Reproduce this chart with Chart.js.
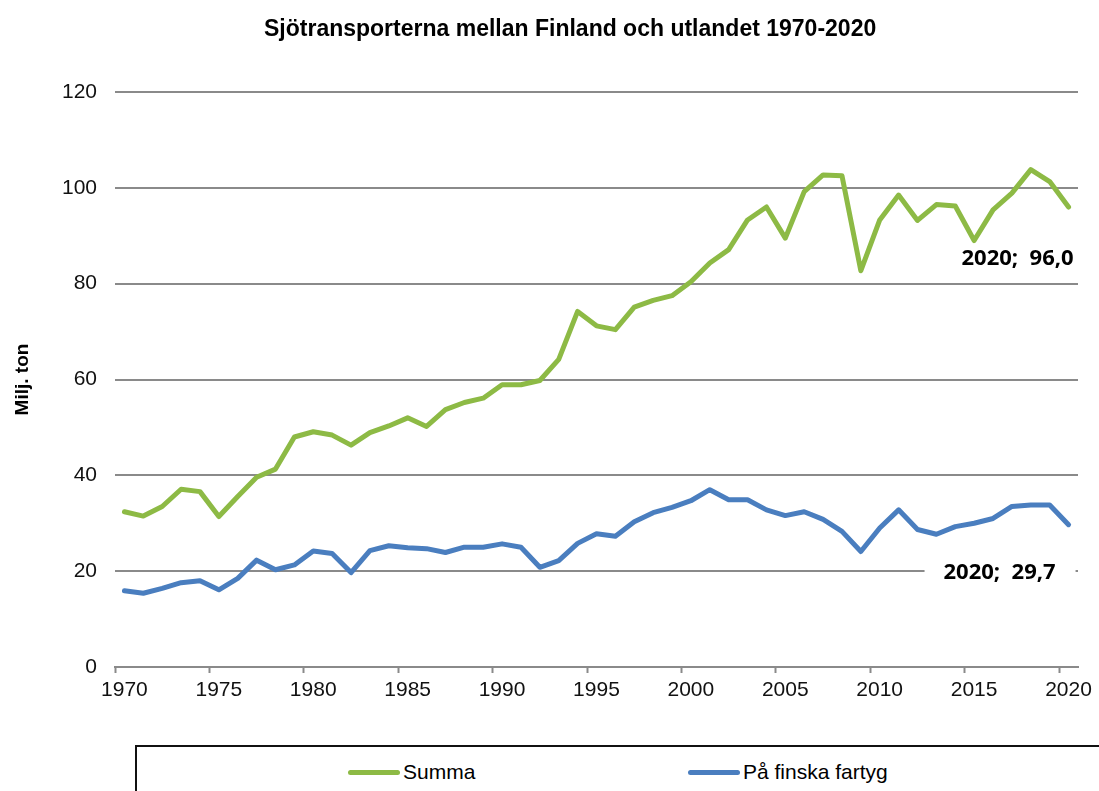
<!DOCTYPE html>
<html lang="sv">
<head>
    <meta charset="UTF-8">
    <title>Sjötransporterna mellan Finland och utlandet 1970-2020</title>
    <script src="https://cdn.jsdelivr.net/npm/chart.js"></script>
    <style>
        html, body { margin: 0; padding: 0; background: #fff; overflow: hidden; }
        #wrap { position: relative; width: 1099px; height: 791px; }
        #seaChart { position: absolute; left: 0; top: 0; }
        #title {
            position: absolute; left: 264px; width: 600px; top: 14px; text-align: center;
            font-family: "Liberation Sans", Arial, sans-serif; font-weight: bold; font-size: 23px;
            color: #000; white-space: nowrap; line-height: 28px;
        }
        #legend {
            position: absolute; left: 135px; top: 745px; width: 1100px; height: 60px;
            border: 2px solid #111; box-sizing: border-box; background: #fff;
            font-family: "Liberation Sans", Arial, sans-serif; font-size: 21px; color: #000;
        }
        #legend .item { position: absolute; top: 12px; display: flex; align-items: center; height: 26px; }
        #legend .swatch { width: 52px; height: 5px; border-radius: 3px; margin-right: 3px; }
    </style>
</head>
<body>
<div id="wrap">
    <canvas id="seaChart" width="1099" height="791"></canvas>
    <div id="title">Sjötransporterna mellan Finland och utlandet 1970-2020</div>
    <div id="legend"></div>
</div>

<script>
// years 1970-2020
const years = [
    1970, 1971, 1972, 1973, 1974, 1975, 1976, 1977, 1978, 1979,
    1980, 1981, 1982, 1983, 1984, 1985, 1986, 1987, 1988, 1989,
    1990, 1991, 1992, 1993, 1994, 1995, 1996, 1997, 1998, 1999,
    2000, 2001, 2002, 2003, 2004, 2005, 2006, 2007, 2008, 2009,
    2010, 2011, 2012, 2013, 2014, 2015, 2016, 2017, 2018, 2019,
    2020
];

// Summa, milj. ton
const summa = [
    32.4, 31.5, 33.5, 37.1, 36.6, 31.4, 35.6, 39.6, 41.3, 48.0,
    49.1, 48.4, 46.3, 48.9, 50.3, 52.0, 50.2, 53.7, 55.2, 56.1,
    58.9, 58.9, 59.8, 64.2, 74.2, 71.2, 70.4, 75.1, 76.5, 77.5,
    80.4, 84.3, 87.1, 93.3, 96.0, 89.5, 99.2, 102.7, 102.5, 82.7,
    93.3, 98.5, 93.2, 96.5, 96.2, 89.0, 95.4, 98.9, 103.8, 101.3,
    96.0
];

// På finska fartyg, milj. ton
const finska = [
    15.9, 15.4, 16.4, 17.6, 18.0, 16.1, 18.5, 22.3, 20.3, 21.3,
    24.2, 23.7, 19.7, 24.3, 25.3, 24.9, 24.7, 23.9, 25.0, 25.0,
    25.7, 25.0, 20.8, 22.2, 25.8, 27.8, 27.3, 30.3, 32.2, 33.3,
    34.7, 37.0, 34.9, 34.9, 32.8, 31.6, 32.4, 30.8, 28.3, 24.1,
    29.0, 32.8, 28.7, 27.7, 29.3, 30.0, 31.0, 33.5, 33.8, 33.8,
    29.7
];

const yTicks = [0, 20, 40, 60, 80, 100, 120];
const xLabelYears = [1970, 1975, 1980, 1985, 1990, 1995, 2000, 2005, 2010, 2015, 2020];

const GREEN = '#8dba45';
const BLUE = '#4a7ebf';
const GRID = '#8a8a8a';

function toPoints(values) {
    return values.map((v, i) => ({ x: years[i], y: v }));
}

function fmt(v) {
    return v.toFixed(1).replace('.', ',');
}

// last-point labels ("2020; 96,0")
const endLabels = {
    id: 'endLabels',
    afterDatasetsDraw(chart) {
        const ctx = chart.ctx;
        const last = years.length - 1;
        ctx.save();
        ctx.font = 'bold 22px "Open Sans", "DejaVu Sans", sans-serif';
        ctx.fillStyle = '#000';
        ctx.textBaseline = 'middle';

        const p1 = chart.getDatasetMeta(0).data[last];
        ctx.textAlign = 'right';
        ctx.fillText(years[last] + ';  ' + fmt(summa[last]), p1.x + 5, p1.y + 52);

        const p2 = chart.getDatasetMeta(1).data[last];
        ctx.fillStyle = '#fff';
        ctx.fillRect(p2.x - 144, p2.y + 31, 151, 32);
        ctx.fillStyle = '#000';
        ctx.textAlign = 'center';
        ctx.fillText(years[last] + ';  ' + fmt(finska[last]), p2.x - 69, p2.y + 48);
        ctx.restore();
    }
};

// html legend inside the framed box below the chart
const htmlLegend = {
    id: 'htmlLegend',
    afterUpdate(chart) {
        const box = document.getElementById('legend');
        box.innerHTML = '';
        const starts = [211, 551];
        chart.data.datasets.forEach((ds, i) => {
            const item = document.createElement('div');
            item.className = 'item';
            item.style.left = starts[i] + 'px';
            const sw = document.createElement('span');
            sw.className = 'swatch';
            sw.style.background = ds.borderColor;
            const txt = document.createElement('span');
            txt.textContent = ds.label;
            item.appendChild(sw);
            item.appendChild(txt);
            box.appendChild(item);
        });
    }
};

const ctx = document.getElementById('seaChart').getContext('2d');
new Chart(ctx, {
    type: 'line',
    data: {
        datasets: [
            {
                label: 'Summa',
                data: toPoints(summa),
                borderColor: GREEN,
                backgroundColor: GREEN,
                borderWidth: 5,
                pointRadius: 0,
                tension: 0,
                borderJoinStyle: 'round',
                borderCapStyle: 'round',
                fill: false
            },
            {
                label: 'På finska fartyg',
                data: toPoints(finska),
                borderColor: BLUE,
                backgroundColor: BLUE,
                borderWidth: 5,
                pointRadius: 0,
                tension: 0,
                borderJoinStyle: 'round',
                borderCapStyle: 'round',
                fill: false
            }
        ]
    },
    options: {
        responsive: false,
        animation: false,
        layout: { padding: { left: 0, right: 21, top: 92, bottom: 0 } },
        plugins: {
            legend: { display: false },
            tooltip: { enabled: false },
            title: { display: false }
        },
        scales: {
            x: {
                type: 'linear',
                min: years[0] - 0.5,
                max: years[years.length - 1] + 0.5,
                afterBuildTicks(scale) {
                    scale.ticks = xLabelYears.map(y => ({ value: y - 0.5 }));
                },
                afterFit(scale) { scale.height = 124; },
                ticks: {
                    autoSkip: false,
                    maxRotation: 0,
                    padding: 5,
                    labelOffset: 9.4,
                    color: '#111',
                    font: { family: '"Liberation Sans", Arial, sans-serif', size: 21 },
                    callback: v => String(v + 0.5)
                },
                grid: {
                    drawOnChartArea: false,
                    drawTicks: true,
                    tickLength: 6,
                    tickWidth: 2,
                    tickColor: GRID,
                    color: GRID
                },
                border: { display: true, color: GRID, width: 2 }
            },
            y: {
                min: 0,
                max: 120,
                afterBuildTicks(scale) {
                    scale.ticks = yTicks.map(v => ({ value: v }));
                },
                afterFit(scale) { scale.width = 115; },
                ticks: {
                    padding: 18,
                    color: '#111',
                    font: { family: '"Liberation Sans", Arial, sans-serif', size: 21 }
                },
                grid: {
                    color: GRID,
                    lineWidth: 2,
                    drawTicks: false,
                    tickLength: 0
                },
                border: { display: false },
                title: {
                    display: true,
                    text: 'Milj. ton',
                    color: '#000',
                    font: { family: '"Liberation Sans", Arial, sans-serif', size: 19, weight: 'bold' },
                    padding: { top: 11, bottom: 0 }
                }
            }
        }
    },
    plugins: [endLabels, htmlLegend]
});
</script>
</body>
</html>
